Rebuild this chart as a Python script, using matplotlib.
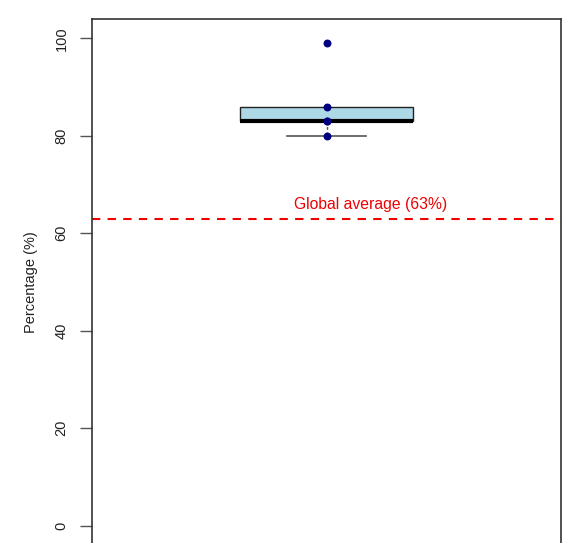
import matplotlib
matplotlib.use("Agg")
import matplotlib.pyplot as plt

plt.rcParams['font.family'] = ['Liberation Sans', 'DejaVu Sans']

# Percentages per observation
values = [80, 83, 83, 86, 99]
global_avg = 63
avg_label = "Global average (63%)"
y_ticks = [0, 20, 40, 60, 80, 100]
y_label = "Percentage (%)"

fig = plt.figure(figsize=(5.74, 5.43), dpi=100)
ax = fig.add_axes([92/574, 1 - 545/543, 469/574, 526/543])

bp = ax.boxplot(values, positions=[0.5], widths=0.369, patch_artist=True,
                showfliers=False, whis=1.5, manage_ticks=False,
                boxprops=dict(facecolor='#ADD8E6', edgecolor='#222222', linewidth=1.0),
                medianprops=dict(color='black', linewidth=3),
                whiskerprops=dict(color='#555555', linewidth=1.0, linestyle=(0, (2, 2))),
                capprops=dict(color='#555555', linewidth=1.2),
                capwidths=0.17)
# no upper whisker: hide the cap that sits on the box top
bp['caps'][1].set_visible(False)
bp['whiskers'][1].set_visible(False)

ax.scatter([0.5] * len(values), values, color='#000080', s=22, zorder=5)

ax.axhline(global_avg, color='#ee0000', linestyle=(0, (4, 3.5)), linewidth=1.5)
ax.text(0.595, global_avg + 3, avg_label, color='#ee0000', fontsize=11.3,
        ha='center', va='center')

ax.set_xlim(0, 1)
ax.set_ylim(-4, 104)
ax.set_xticks([])
ax.set_yticks(y_ticks)
ax.set_yticklabels([str(t) for t in y_ticks], rotation=90, va='center', fontsize=10.5, color='#222222')
ax.tick_params(axis='y', length=9, width=1, color='#555555', pad=8)
ax.set_ylabel(y_label, fontsize=10.5, color='#222222', labelpad=12)

for side in ['left', 'top', 'right', 'bottom']:
    ax.spines[side].set_color('#333333')
    ax.spines[side].set_linewidth(1.2)

fig.savefig("out.png", dpi=100)
